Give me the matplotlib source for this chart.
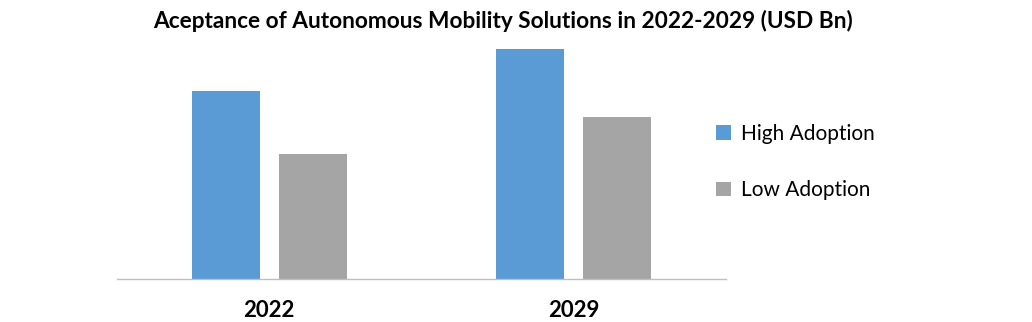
import matplotlib.pyplot as plt
import numpy as np

# chart data
years = ["2022", "2029"]
high_adoption = [8.17, 10.0]
low_adoption = [5.43, 7.04]
series_names = ["High Adoption", "Low Adoption"]

plt.rcParams['font.family'] = ['Lato', 'DejaVu Sans']

fig = plt.figure(figsize=(10.32, 3.22), dpi=100)
ax = fig.add_axes([0.1134, 0.1335, 0.590, 0.7267])

x = np.arange(len(years))
width = 0.223
offset = 0.143

ax.bar(x - offset, high_adoption, width, color='#5B9BD5', label=series_names[0])
ax.bar(x + offset, low_adoption, width, color='#A5A5A5', label=series_names[1])

ax.set_xlim(-0.5, 1.5)
ax.set_ylim(0, 10.17)

for s in ['top', 'right', 'left']:
    ax.spines[s].set_visible(False)
ax.spines['bottom'].set_color('#BFBFBF')
ax.spines['bottom'].set_linewidth(1.0)

ax.set_yticks([])
ax.set_xticks(x)
ax.set_xticklabels(years, fontsize=16, fontweight='bold')
ax.tick_params(axis='x', length=0, pad=15)

fig.suptitle('Aceptance of Autonomous Mobility Solutions in 2022-2029 (USD Bn)',
             x=0.487, y=0.97, fontsize=16.3, fontweight='bold')

ax.legend(loc='center left', bbox_to_anchor=(0.953, 0.5), frameon=False,
          fontsize=15, handlelength=0.7, handleheight=0.7,
          handletextpad=0.5, labelspacing=1.75)

fig.savefig('out.png', dpi=100)
